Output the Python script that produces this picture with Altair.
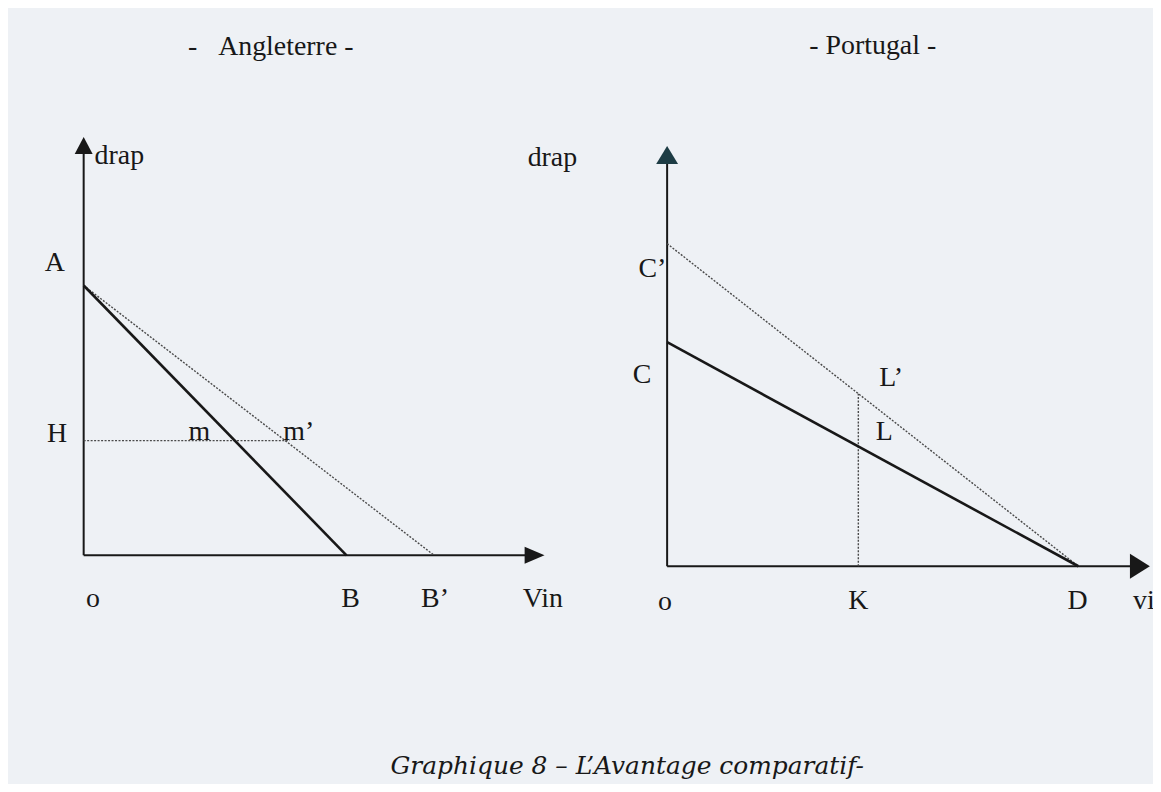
import altair as alt
import pandas as pd

# ---------------- data (diagram units) ----------------
# Angleterre
ANG_A = 6.0       # drap intercept (A)
ANG_B = 6.0       # vin intercept (B)
ANG_B2 = 8.0      # vin intercept after trade (B')
ANG_H = 2.55      # level H
ANG_YTOP = 9.3    # end of drap axis
ANG_XEND = 10.52  # end of vin axis

# Portugal
POR_C = 5.0       # drap intercept (C)
POR_C2 = 7.2      # drap intercept after trade (C')
POR_D = 10.0      # vin intercept (D)
POR_K = 4.65      # level K
POR_YTOP = 9.38
POR_XEND = 11.74

ANG_LABELS = ["drap", "A", "H", "m", "m’", "o", "B", "B’", "Vin"]
ANG_LX = [0.25, -0.66, -0.61, 2.64, 4.91, 0.21, 6.09, 8.02, 10.48]
ANG_LY = [8.88, 6.49, 2.70, 2.745, 2.745, -0.97, -0.97, -0.97, -0.97]

POR_LABELS = ["drap", "C’", "C", "L’", "L", "o", "K", "D"]
POR_LX = [-2.79, -0.36, -0.61, 5.45, 5.28, -0.05, 4.65, 9.98]
POR_LY = [9.11, 6.64, 4.27, 4.20, 3.00, -0.80, -0.78, -0.78]

TITLE_ANG = "-\u00a0\u00a0\u00a0Angleterre -"
TITLE_POR = "- Portugal -"
CAPTION = "Graphique 8 – L’Avantage comparatif-"

# ---------------- layout ----------------
W, H = 1150, 776
# Pixel mapping of each panel's coordinate system
ang_x = alt.Scale(domain=[(8 - 84) / 44, (8 + W - 84) / 44], nice=False, zero=False)
ang_y = alt.Scale(domain=[(556 - 784) / 45.1667, (556 - 8) / 45.1667], nice=False, zero=False)
por_x = alt.Scale(domain=[(8 - 670) / 41.3, (8 + W - 670) / 41.3], nice=False, zero=False)
por_y = alt.Scale(domain=[(567 - 784) / 45.0, (567 - 8) / 45.0], nice=False, zero=False)

FONT = "Liberation Serif"
INK = "#181818"
DOT = "#4a4a4a"


def seg_layer(df, xs, ys, **mk):
    return alt.Chart(df).mark_rule(**mk).encode(
        x=alt.X("x:Q", scale=xs, axis=None),
        y=alt.Y("y:Q", scale=ys, axis=None),
        x2="x2:Q",
        y2="y2:Q",
    )


def arrow_layer(x, y, shape, color, xs, ys):
    return alt.Chart(pd.DataFrame({"x": [x], "y": [y]})).mark_point(
        shape=shape, filled=True, size=400, opacity=1, color=color, strokeWidth=0
    ).encode(
        x=alt.X("x:Q", scale=xs, axis=None),
        y=alt.Y("y:Q", scale=ys, axis=None),
    )


def text_layer(labels, xs_, ys_, xs, ys, align="center", size=28, font=FONT,
               style="normal"):
    df = pd.DataFrame({"t": labels, "x": xs_, "y": ys_})
    return alt.Chart(df).mark_text(
        align=align, baseline="middle", font=font, fontSize=size,
        fontStyle=style, color=INK
    ).encode(
        x=alt.X("x:Q", scale=xs, axis=None),
        y=alt.Y("y:Q", scale=ys, axis=None),
        text="t:N",
    )


# ---------------- Angleterre ----------------
m2_x = ANG_B2 * (1 - ANG_H / ANG_A)

ang_axes = pd.DataFrame({"x": [0, 0], "y": [0, 0], "x2": [0, ANG_XEND - 0.3], "y2": [ANG_YTOP - 0.3, 0]})
ang_solid = pd.DataFrame({"x": [0], "y": [ANG_A], "x2": [ANG_B], "y2": [0]})
ang_dot = pd.DataFrame({"x": [0, 0], "y": [ANG_A, ANG_H], "x2": [ANG_B2, m2_x + 0.1], "y2": [0, ANG_H]})

left = alt.layer(
    seg_layer(ang_axes, ang_x, ang_y, color=INK, strokeWidth=2),
    seg_layer(ang_dot, ang_x, ang_y, color=DOT, strokeWidth=1.4, strokeDash=[2, 1.5]),
    seg_layer(ang_solid, ang_x, ang_y, color=INK, strokeWidth=2.6),
    arrow_layer(0, ANG_YTOP, "M0,0L-0.9,1.7L0.9,1.7Z", INK, ang_x, ang_y),
    arrow_layer(ANG_XEND, 0, "M0,0L-2,-0.85L-2,0.85Z", INK, ang_x, ang_y),
    text_layer(ANG_LABELS[:1], ANG_LX[:1], ANG_LY[:1], ang_x, ang_y, align="left"),
    text_layer(ANG_LABELS[1:], ANG_LX[1:], ANG_LY[1:], ang_x, ang_y),
    text_layer([TITLE_ANG], [4.27], [11.31], ang_x, ang_y),
)

# ---------------- Portugal ----------------
por_axes = pd.DataFrame({"x": [0, 0], "y": [0, 0], "x2": [0, POR_XEND - 0.3], "y2": [POR_YTOP - 0.3, 0]})
por_solid = pd.DataFrame({"x": [0], "y": [POR_C], "x2": [POR_D], "y2": [0]})
L2_y = POR_C2 * (1 - POR_K / POR_D)
por_dot = pd.DataFrame({"x": [0, POR_K], "y": [POR_C2, 0], "x2": [POR_D, POR_K], "y2": [0, L2_y]})

right = alt.layer(
    seg_layer(por_axes, por_x, por_y, color=INK, strokeWidth=2),
    seg_layer(por_dot, por_x, por_y, color=DOT, strokeWidth=1.4, strokeDash=[2, 1.5]),
    seg_layer(por_solid, por_x, por_y, color=INK, strokeWidth=2.6),
    arrow_layer(0, POR_YTOP, "M0,0L-1.1,1.8L1.1,1.8Z", "#1d3c44", por_x, por_y),
    arrow_layer(POR_XEND, 0, "M0,0L-2,-1.25L-2,1.25Z", INK, por_x, por_y),
    text_layer(POR_LABELS, POR_LX, POR_LY, por_x, por_y),
    text_layer(["vin"], [11.33], [-0.78], por_x, por_y, align="left"),
    text_layer([TITLE_POR], [5.0], [11.6], por_x, por_y),
    text_layer([CAPTION], [-0.97], [-4.47], por_x, por_y, size=25,
               font="DejaVu Serif", style="italic"),
)

chart = (
    alt.layer(left, right)
    .resolve_scale(x="independent", y="independent")
    .properties(width=W, height=H, background="#eef1f5", padding=0,
                autosize=alt.AutoSizeParams(type="none"))
    .configure_view(strokeWidth=0)
)

chart.save("out.html", embed_options={"renderer": "svg", "actions": False})
